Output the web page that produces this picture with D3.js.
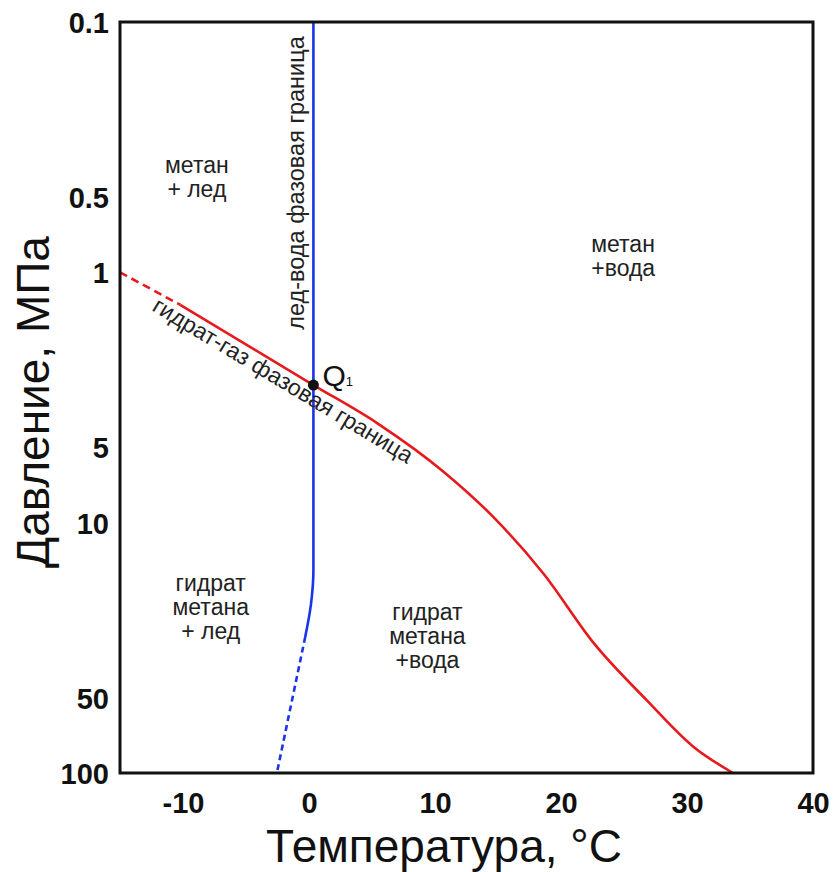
<!DOCTYPE html>
<html>
<head>
<meta charset="utf-8">
<script src="https://cdn.jsdelivr.net/npm/d3@7"></script>
<style>
  body { margin: 0; background: #fff; }
  svg text { font-family: "Liberation Sans", Arial, Helvetica, sans-serif; }
</style>
</head>
<body>
<svg id="chart" width="836" height="872"></svg>
<script>
// Axis ticks
const xTicks = [-10, 0, 10, 20, 30, 40];
const yTicks = [0.1, 0.5, 1, 5, 10, 50, 100];

// Hydrate-gas boundary (T in °C, P in MPa)
const hydrateDashed = [[-15, 1.0], [-10.2, 1.35]];
const hydrateSolid = [
  [-10.2, 1.35], [0.35, 2.82], [5.4, 4.0], [10.7, 6.27],
  [14.6, 9.46], [18.6, 15.96], [22.6, 30.3], [26.8, 51.2], [30.5, 78.5], [33.65, 100]
];

// Ice-water boundary - drawn top to bottom
const iceSolid = [[0.35, 0.1], [0.35, 15.5], [0.15, 21.3], [-0.3, 28.6]];
const iceDashed = [[-0.3, 28.6], [-2.55, 100]];

const quadPoint = [0.35, 2.82];

// Region labels
const regions = [
  { t: -8.9, p: 0.4, lines: ['метан', '+ лед'], anchor: 'middle' },
  { t: 22.4, p: 0.83, lines: ['метан', '+вода'], anchor: 'start' },
  { t: -7.8, p: 18.8, lines: ['гидрат', 'метана', '+ лед'], anchor: 'middle' },
  { t: 9.4, p: 24.5, lines: ['гидрат', 'метана', '+вода'], anchor: 'middle' },
];

const svg = d3.select('#chart');
const margin = { left: 120, top: 22, right: 813, bottom: 773 };

const x = d3.scaleLinear().domain([-15, 40]).range([margin.left, margin.right]);
const y = d3.scaleLog().domain([0.1, 100]).range([margin.top, margin.bottom]);

const red = '#e8191c';
const blue = '#1934ea';

const lineX = d3.line().x(d => x(d[0])).y(d => y(d[1])).curve(d3.curveMonotoneX);
const lineY = d3.line().x(d => x(d[0])).y(d => y(d[1])).curve(d3.curveMonotoneY);

// Curves
const plot = svg.append('g').attr('class', 'plot');

plot.append('path').datum(hydrateDashed)
  .attr('d', lineX).attr('fill', 'none')
  .attr('stroke', red).attr('stroke-width', 2.6).attr('stroke-dasharray', '8,5');

plot.append('path').datum(hydrateSolid)
  .attr('d', lineX).attr('fill', 'none')
  .attr('stroke', red).attr('stroke-width', 2.6);

plot.append('path').datum(iceSolid)
  .attr('d', lineY).attr('fill', 'none')
  .attr('stroke', blue).attr('stroke-width', 2.6);

plot.append('path').datum(iceDashed)
  .attr('d', lineY).attr('fill', 'none')
  .attr('stroke', blue).attr('stroke-width', 2.6).attr('stroke-dasharray', '6,4');

// Quadruple point
plot.append('circle')
  .attr('cx', x(quadPoint[0])).attr('cy', y(quadPoint[1]))
  .attr('r', 5.5).attr('fill', '#111');

const qLabel = plot.append('text')
  .attr('x', x(quadPoint[0]) + 9).attr('y', y(quadPoint[1]) + 1)
  .attr('font-size', 30).attr('fill', '#111');
qLabel.append('tspan').text('Q');
qLabel.append('tspan').attr('font-size', 13).text('1');

// Region labels
regions.forEach(r => {
  const t = plot.append('text')
    .attr('x', x(r.t)).attr('y', y(r.p))
    .attr('font-size', 23).attr('fill', '#222')
    .attr('text-anchor', r.anchor);
  r.lines.forEach((s, i) => {
    t.append('tspan').attr('x', x(r.t)).attr('dy', i === 0 ? 0 : 24).text(s);
  });
});

// Boundary labels
plot.append('text')
  .attr('transform', `translate(${x(0.35) - 9},${183}) rotate(-90)`)
  .attr('text-anchor', 'middle')
  .attr('font-size', 23.5).attr('fill', '#222')
  .text('лед-вода фазовая граница');

plot.append('text')
  .attr('transform', `translate(279,387) rotate(31)`)
  .attr('text-anchor', 'middle')
  .attr('font-size', 23).attr('fill', '#222')
  .text('гидрат-газ фазовая граница');

// Frame
svg.append('rect')
  .attr('x', margin.left).attr('y', margin.top)
  .attr('width', margin.right - margin.left).attr('height', margin.bottom - margin.top)
  .attr('fill', 'none').attr('stroke', '#111').attr('stroke-width', 3);

// Axes
const xAxis = svg.append('g')
  .attr('transform', `translate(0,${margin.bottom})`)
  .call(d3.axisBottom(x).tickValues(xTicks).tickSize(0).tickPadding(19).tickFormat(d3.format('d')));
const yAxis = svg.append('g')
  .attr('transform', `translate(${margin.left},0)`)
  .call(d3.axisLeft(y).tickValues(yTicks).tickSize(0).tickPadding(11).tickFormat(d => String(d)));

[xAxis, yAxis].forEach(g => {
  g.select('.domain').remove();
  g.selectAll('text')
    .attr('font-size', 29).attr('font-weight', 'bold').attr('fill', '#111')
    .style('font-family', '"Liberation Sans", Arial, sans-serif');
});
yAxis.selectAll('text').attr('dy', '0.36em');
xAxis.selectAll('text').text(d => d < 0 ? '-' + Math.abs(d) : d);

// Axis titles
svg.append('text')
  .attr('x', 444).attr('y', 862)
  .attr('text-anchor', 'middle')
  .attr('font-size', 46).attr('fill', '#111')
  .text('Температура, °C');

svg.append('text')
  .attr('transform', 'translate(49,402) rotate(-90)')
  .attr('text-anchor', 'middle')
  .attr('font-size', 46).attr('fill', '#111')
  .text('Давление, МПа');
</script>
</body>
</html>
